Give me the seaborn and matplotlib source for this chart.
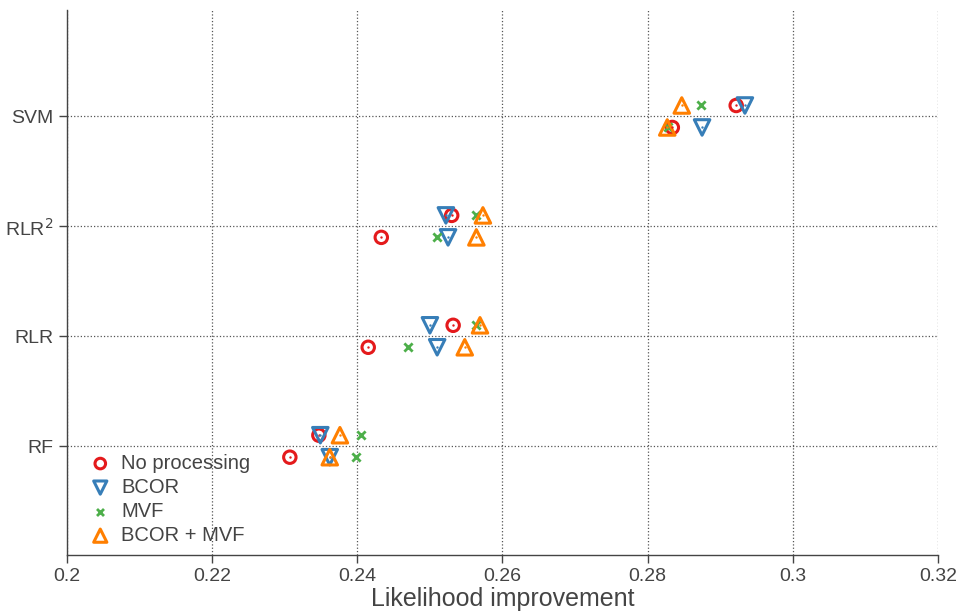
import pandas as pd
import matplotlib.pyplot as plt
import seaborn as sns

models = ['RF', 'RLR', 'RLR$^2$', 'SVM']
methods = ['No processing', 'BCOR', 'MVF', 'BCOR + MVF']

# two runs per model: upper row and lower row
upper = {
    'No processing': [0.2347, 0.2532, 0.2530, 0.2922],
    'BCOR':          [0.2349, 0.2500, 0.2522, 0.2934],
    'MVF':           [0.2405, 0.2564, 0.2564, 0.2874],
    'BCOR + MVF':    [0.2376, 0.2569, 0.2573, 0.2847],
}
lower = {
    'No processing': [0.2307, 0.2415, 0.2433, 0.2834],
    'BCOR':          [0.2362, 0.2510, 0.2525, 0.2875],
    'MVF':           [0.2398, 0.2470, 0.2510, 0.2828],
    'BCOR + MVF':    [0.2362, 0.2548, 0.2564, 0.2827],
}

colors = {'No processing': '#e41a1c', 'BCOR': '#377eb8', 'MVF': '#4daf4a', 'BCOR + MVF': '#ff7f00'}
markers = {'No processing': 'o', 'BCOR': 'v', 'MVF': 'x', 'BCOR + MVF': '^'}
sizes = {'No processing': 80, 'BCOR': 125, 'MVF': 35, 'BCOR + MVF': 125}

rows = []
for m in methods:
    for i, mod in enumerate(models):
        rows.append({'method': m, 'model': mod, 'value': upper[m][i], 'pos': i + 0.1})
        rows.append({'method': m, 'model': mod, 'value': lower[m][i], 'pos': i - 0.1})
df = pd.DataFrame(rows)

sns.set_style('white')
plt.rcParams['font.family'] = ['Liberation Sans', 'DejaVu Sans']
fig = plt.figure(figsize=(9.63, 6.16), dpi=100)
ax = fig.add_axes([0.0696, 0.099, 0.9044, 0.885])

for m in methods:
    sub = df[df['method'] == m]
    if markers[m] == 'x':
        sns.scatterplot(data=sub, x='value', y='pos', marker='x', color=colors[m],
                        s=sizes[m], linewidth=2, ax=ax, label=m, zorder=3)
    else:
        sns.scatterplot(data=sub, x='value', y='pos', marker=markers[m], facecolors='none',
                        edgecolor=colors[m], color=colors[m], s=sizes[m], linewidth=2.2,
                        ax=ax, label=m, zorder=3)
        # small centre dot
        sns.scatterplot(data=sub, x='value', y='pos', marker='o', color=colors[m],
                        s=3, linewidth=0, ax=ax, zorder=4)

ax.set_xlim(0.2, 0.32)
ax.set_ylim(-0.99, 3.97)
ax.set_xticks([0.2, 0.22, 0.24, 0.26, 0.28, 0.3, 0.32])
ax.set_xticklabels(['0.2', '0.22', '0.24', '0.26', '0.28', '0.3', '0.32'])
ax.set_yticks(range(len(models)))
ax.set_yticklabels(models)
ax.grid(True, linestyle=':', color='#555555', linewidth=0.9)
ax.set_axisbelow(True)

for s in ['top', 'right']:
    ax.spines[s].set_visible(False)
for s in ['left', 'bottom']:
    ax.spines[s].set_color('#444444')
    ax.spines[s].set_linewidth(1.0)
ax.tick_params(axis='both', direction='out', length=6, width=1, color='#444444',
               labelsize=14, labelcolor='#444444', left=True, bottom=True)
ax.set_xlabel('Likelihood improvement', fontsize=18, color='#444444', labelpad=1)
ax.set_ylabel('')

handles, labels = ax.get_legend_handles_labels()
ax.legend(handles[:4], labels[:4], loc='lower left', bbox_to_anchor=(0.0035, 0.0),
          frameon=False, fontsize=14.5, labelcolor='#444444', handletextpad=0.05,
          labelspacing=0.25, borderaxespad=0.1, borderpad=0.4, markerscale=0.85)

fig.savefig('out.png', dpi=100)
